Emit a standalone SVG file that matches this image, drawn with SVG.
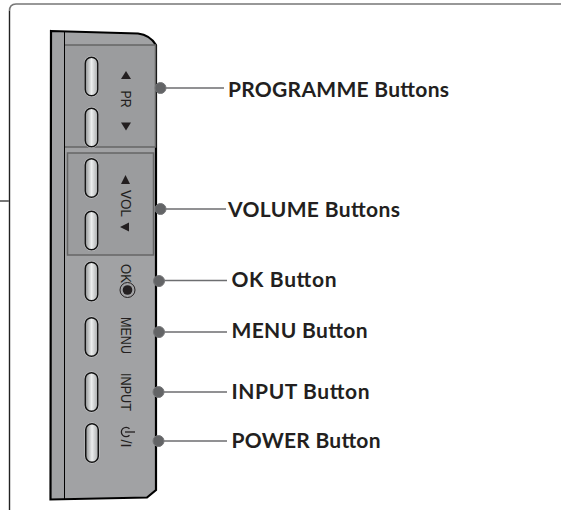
<svg xmlns="http://www.w3.org/2000/svg" width="561" height="525" viewBox="0 0 561 525">
<defs>
<linearGradient id="g" x1="0" x2="1" y1="0" y2="0"><stop offset="0" stop-color="#8f9192"/><stop offset="0.5" stop-color="#eceeee"/><stop offset="1" stop-color="#a9abac"/></linearGradient>
<g id="btn"><rect x="-7.500" y="-20.500" width="15" height="41" rx="7.500" fill="#d4d5d6"/><rect x="-6.300" y="-19.300" width="12.600" height="38.600" rx="6.300" class="btn"/></g>
</defs>
<style>
.btn{fill:url(#g);stroke:#111;stroke-width:1.5}
.dot{fill:#636466;stroke:#77787a;stroke-width:1}
.ln{stroke:#6d6e70;stroke-width:1.4;fill:none}
.lbl{font-family:"Lato","Liberation Sans",sans-serif;font-weight:700;font-size:21px;fill:#231f20}
.pt{font-family:"Liberation Sans",Arial,sans-serif;font-size:14.500px;fill:#231f20}
.tri{fill:#231f20}
</style>
<rect width="561" height="525" fill="#fff"/>
<g id="frame" fill="none">
<path d="M561 4H16Q9.500 4 9.500 11" stroke="#777" stroke-width="1.600"/>
<path d="M9.500 11V510" stroke="#222" stroke-width="1.400"/>
<path d="M0 201H9" stroke="#777" stroke-width="2"/>
</g>
<g id="panel">
<path d="M51 31L138 33.500Q150 35 156 45V490L147 497.500L50.500 499.500Z" fill="#a1a2a4" stroke="#000" stroke-width="2.200"/>
<path d="M64.500 32V499" stroke="#000" stroke-width="1"/>
<path d="M65 45H155.500V147H65" fill="#9b9c9e" stroke="#666" stroke-width="1.500"/>
<rect x="67.500" y="153" width="86" height="102" fill="#9b9c9e" stroke="#666" stroke-width="1.500"/>
</g>
<g id="btn-pr"><use href="#btn" x="91.500" y="76.500"/><use href="#btn" x="91.500" y="127.500"/>
<path class="tri" d="M126 71L131 79H121Z"/><path class="tri" d="M126 130.500L131 122.500H121Z"/>
<text class="pt" transform="translate(121 90.500) rotate(90)" textLength="17" lengthAdjust="spacingAndGlyphs">PR</text></g>
<g id="btn-vol"><use href="#btn" x="91.500" y="178"/><use href="#btn" x="91.500" y="230.500"/>
<path class="tri" d="M125.500 175L130 184H121Z"/><path class="tri" d="M120 227L129 222.500V231.500Z"/>
<text class="pt" transform="translate(121 190) rotate(90)" textLength="27" lengthAdjust="spacingAndGlyphs">VOL</text></g>
<g id="btn-ok"><use href="#btn" x="91.500" y="281.500"/>
<text class="pt" transform="translate(121 264) rotate(90)" textLength="19" lengthAdjust="spacingAndGlyphs">OK</text>
<circle cx="127.500" cy="290" r="7.500" fill="none" stroke="#231f20" stroke-width="1"/><circle cx="127.500" cy="290" r="4.800" fill="#231f20"/></g>
<g id="btn-menu"><use href="#btn" x="91.500" y="337"/>
<text class="pt" transform="translate(121 317) rotate(90)" textLength="37" lengthAdjust="spacingAndGlyphs">MENU</text></g>
<g id="btn-input"><use href="#btn" x="91.500" y="392"/>
<text class="pt" transform="translate(121 373) rotate(90)" textLength="38" lengthAdjust="spacingAndGlyphs">INPUT</text></g>
<g id="btn-power"><use href="#btn" x="92" y="443"/>
<path d="M129.500 428.800A4.700 4.700 0 1 0 129.500 435.200" fill="none" stroke="#231f20" stroke-width="1.300"/>
<path d="M125 432H135" stroke="#231f20" stroke-width="1.300"/>
<text class="pt" transform="translate(121 439.500) rotate(90)">/I</text></g>
<g id="connectors">
<path class="ln" d="M161 88H224M161 209H226M159 280.500H227M159 332H227M158 392H227M158 441H227"/>
<circle class="dot" cx="160.500" cy="88" r="5.500"/><circle class="dot" cx="160.500" cy="209" r="5.500"/><circle class="dot" cx="159" cy="281" r="5.500"/><circle class="dot" cx="159" cy="332" r="5.500"/><circle class="dot" cx="158.500" cy="392" r="5.500"/><circle class="dot" cx="158.500" cy="441" r="5.500"/>
</g>
<g id="lbl-programme"><text class="lbl" x="228" y="96.500" textLength="221">PROGRAMME Buttons</text></g>
<g id="lbl-volume"><text class="lbl" x="228" y="216.500" textLength="172">VOLUME Buttons</text></g>
<g id="lbl-ok"><text class="lbl" x="231.500" y="287" textLength="105">OK Button</text></g>
<g id="lbl-menu"><text class="lbl" x="231.500" y="337.500" textLength="136">MENU Button</text></g>
<g id="lbl-input"><text class="lbl" x="231.500" y="399" textLength="138">INPUT Button</text></g>
<g id="lbl-power"><text class="lbl" x="231.500" y="447.500" textLength="149">POWER Button</text></g>
</svg>
